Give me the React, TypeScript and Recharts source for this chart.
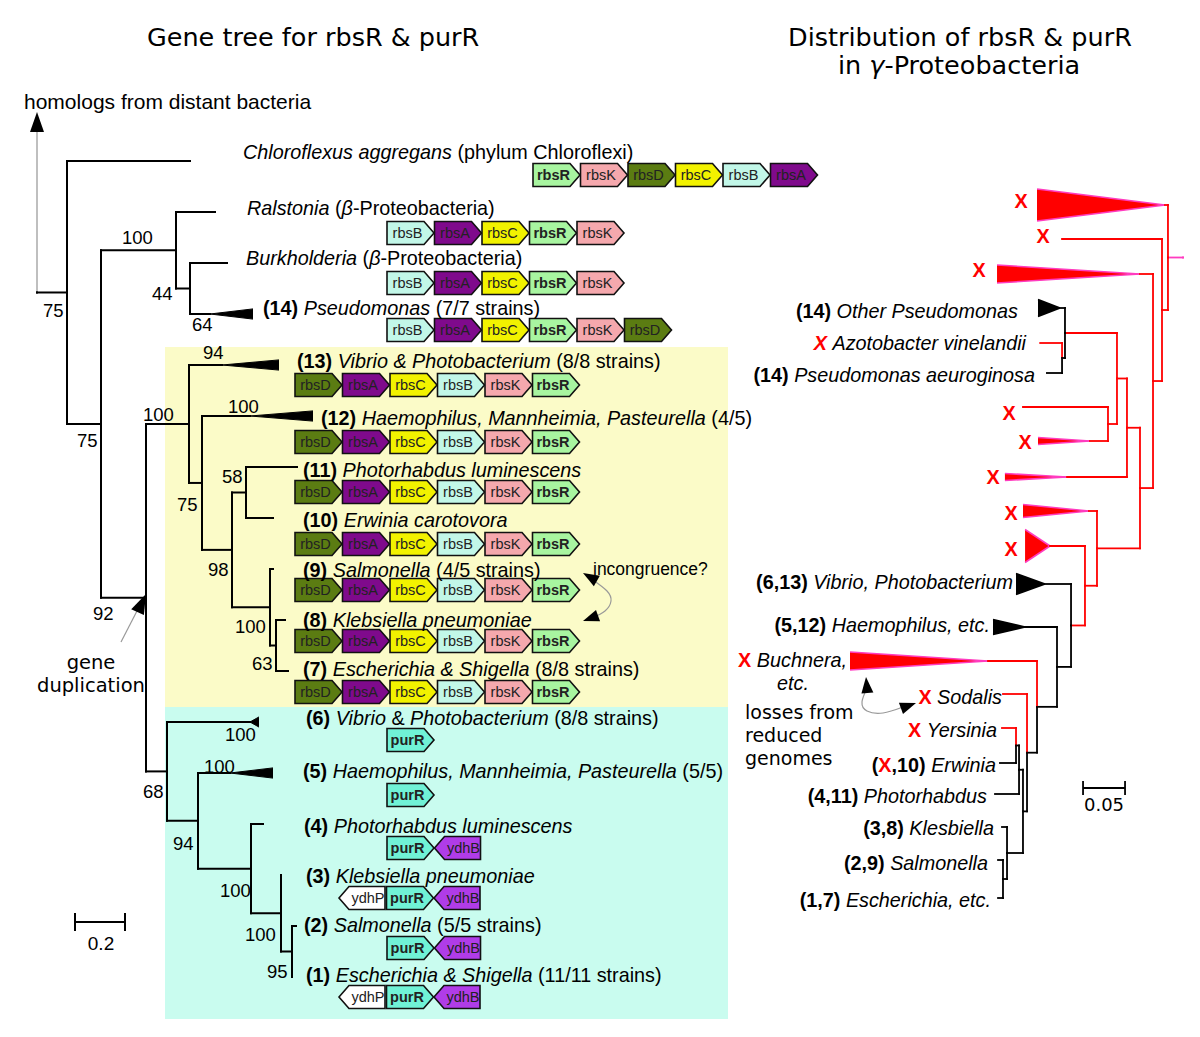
import React from "react";
import {
  Area,
  ComposedChart,
  Line,
  ReferenceArea,
  ReferenceLine,
  Scatter,
  XAxis,
  YAxis,
} from "recharts";

const W = 1200;
const H = 1037;
const SANS = "'Liberation Sans', Arial, Helvetica, sans-serif";
const DEJAVU = "'DejaVu Sans', Verdana, sans-serif";
const RED = "#ff0000";
const PINK = "#ff3cc0";
const LABEL_SIZE = 19.8;

// ---------------- left: gene tree for rbsR & purR ----------------
// [id, parent, distance from root (subst./site), leaf row, end of collapsed clade]
type LRow = [string, string | null, number, number | null, number | null];
const leftTree: LRow[] = [
  ["root", null, 0, null, null],
  ["A", "root", 0.12, null, null],
  ["chl", "A", 0.612, 0, null],
  ["B", "A", 0.256, null, null],
  ["C", "B", 0.556, null, null],
  ["ral", "C", 0.712, 1, null],
  ["E", "C", 0.612, null, null],
  ["bur", "E", 0.76, 2, null],
  ["pse", "E", 0.692, 3, 0.864],
  ["D", "B", 0.436, null, null],
  ["F", "D", 0.608, null, null],
  ["v13", "F", 0.74, 4, 0.968],
  ["G", "F", 0.66, null, null],
  ["h12", "G", 0.852, 5, 1.104],
  ["H", "G", 0.78, null, null],
  ["I", "H", 0.836, null, null],
  ["p11", "I", 1.04, 6, null],
  ["e10", "I", 0.944, 7, null],
  ["J", "H", 0.932, null, null],
  ["s9", "J", 0.944, 8, null],
  ["K", "J", 0.956, null, null],
  ["k8", "K", 0.992, 9, null],
  ["e7", "K", 1.004, 10, null],
  ["L", "D", 0.52, null, null],
  ["v6", "L", 0.852, 11, 0.888],
  ["M", "L", 0.644, null, null],
  ["h5", "M", 0.772, 12, 0.944],
  ["N", "M", 0.856, null, null],
  ["p4", "N", 0.904, 13, null],
  ["O", "N", 0.976, null, null],
  ["k3", "O", 0.976, 14, null],
  ["P", "O", 1.02, null, null],
  ["s2", "P", 1.036, 15, null],
  ["e1", "P", 1.02, 16, null],
];

const leftNames: Record<string, string> = {
  chl: "_Chloroflexus aggregans_ (phylum Chloroflexi)",
  ral: "_Ralstonia_ (_β_-Proteobacteria)",
  bur: "_Burkholderia_ (_β_-Proteobacteria)",
  pse: "*(14)* _Pseudomonas_ (7/7 strains)",
  v13: "*(13)* _Vibrio & Photobacterium_ (8/8 strains)",
  h12: "*(12)* _Haemophilus, Mannheimia, Pasteurella_ (4/5)",
  p11: "*(11)* _Photorhabdus luminescens_",
  e10: "*(10)* _Erwinia carotovora_",
  s9: "*(9)* _Salmonella_ (4/5 strains)",
  k8: "*(8)* _Klebsiella pneumoniae_",
  e7: "*(7)* _Escherichia & Shigella_ (8/8 strains)",
  v6: "*(6)* _Vibrio_ & _Photobacterium_ (8/8 strains)",
  h5: "*(5)* _Haemophilus, Mannheimia, Pasteurella_ (5/5)",
  p4: "*(4)* _Photorhabdus luminescens_",
  k3: "*(3)* _Klebsiella pneumoniae_",
  s2: "*(2)* _Salmonella_ (5/5 strains)",
  e1: "*(1)* _Escherichia & Shigella_ (11/11 strains)",
};
const leftLabelAt: Record<string, [number, number]> = {
  chl: [243, 152], ral: [247, 208], bur: [246, 258], pse: [263, 308],
  v13: [297, 361], h12: [321, 418], p11: [303, 470], e10: [303, 520],
  s9: [303, 570], k8: [303, 620], e7: [303, 669], v6: [306, 718],
  h5: [303, 771], p4: [304, 826], k3: [306, 876], s2: [304, 925], e1: [306, 975],
};

const RBS7 = ["rbsD", "rbsA", "rbsC", "rbsB", "rbsK", "rbsR"];
const geneOrder: Record<string, string[]> = {
  chl: ["rbsR", "rbsK", "rbsD", "rbsC", "rbsB", "rbsA"],
  ral: ["rbsB", "rbsA", "rbsC", "rbsR", "rbsK"],
  bur: ["rbsB", "rbsA", "rbsC", "rbsR", "rbsK"],
  pse: ["rbsB", "rbsA", "rbsC", "rbsR", "rbsK", "rbsD"],
  v13: RBS7, h12: RBS7, p11: RBS7, e10: RBS7, s9: RBS7, k8: RBS7, e7: RBS7,
  v6: ["purR"],
  h5: ["purR"],
  p4: ["purR", "ydhB"],
  k3: ["ydhP", "purR", "ydhB"],
  s2: ["purR", "ydhB"],
  e1: ["ydhP", "purR", "ydhB"],
};
const geneRowAt: Record<string, [number, number]> = {
  chl: [533, 175], ral: [387, 233], bur: [387, 283], pse: [387, 330],
  v13: [295, 385], h12: [295, 442], p11: [295, 492], e10: [295, 544],
  s9: [295, 590], k8: [295, 641], e7: [295, 692],
  v6: [387, 740], h5: [387, 795], p4: [387, 848], k3: [339, 898],
  s2: [387, 948], e1: [339, 997],
};
const GENE_FILL: Record<string, string> = {
  rbsR: "#a8f5a0", rbsK: "#f5a8ad", rbsD: "#5b7c12", rbsC: "#f2f200",
  rbsB: "#c2f7e8", rbsA: "#7f0a8c", purR: "#70f2d6", ydhB: "#b03ce8", ydhP: "#ffffff",
};
const BOLD_GENES = ["rbsR", "purR"];
const REVERSE_GENES = ["ydhB", "ydhP"];

const bootValues = ["75", "100", "44", "64", "75", "92", "100", "94", "75", "100", "58",
  "98", "100", "63", "68", "100", "100", "94", "100", "100", "95"];
const bootAt: [number, number][] = [
  [43, 310], [122, 237], [152, 293], [192, 324], [77, 440], [93, 613], [143, 414],
  [203, 352], [177, 504], [228, 406], [222, 476], [208, 569], [235, 626], [252, 663],
  [143, 791], [225, 734], [204, 766], [173, 843], [220, 890], [245, 934], [267, 971],
];

// ---------------- right: species tree, gamma-Proteobacteria ----------------
// [id, parent, distance from root, leaf y, end of collapsed clade, lineage: r = lost rbsR, k = kept]
type RRow = [string, string | null, number, number | null, number | null, string];
const rightTree: RRow[] = [
  ["root", null, 0, null, null, "m"],
  ["Q1", "root", 0.0179, null, null, "m"],
  ["t1", "Q1", 0.0214, 205, 0.1738, "r"],
  ["Q2", "Q1", 0.025, null, null, "r"],
  ["x2", "Q2", 0.144, 239, null, "r"],
  ["Q3", "Q2", 0.0357, null, null, "r"],
  ["t2", "Q3", 0.0512, 274, 0.2214, "r"],
  ["Q4", "Q3", 0.0512, null, null, "r"],
  ["Q5", "Q4", 0.0667, null, null, "r"],
  ["Q6", "Q5", 0.0786, null, null, "r"],
  ["N2", "Q6", 0.1405, null, null, "r"],
  ["op", "N2", 0.1464, 308, 0.1726, "k"],
  ["N1", "N2", 0.144, null, null, "k"],
  ["azo", "N1", 0.17, 343, null, "r"],
  ["pae", "N1", 0.162, 373, null, "k"],
  ["Q7", "Q6", 0.0893, null, null, "r"],
  ["x7", "Q7", 0.1905, 407, null, "r"],
  ["t4", "Q7", 0.1107, 441, 0.1726, "r"],
  ["t5", "Q5", 0.138, 477, 0.212, "r"],
  ["Q9", "Q4", 0.1024, null, null, "r"],
  ["t6", "Q9", 0.1119, 511, 0.1905, "r"],
  ["Q10", "Q9", 0.1167, null, null, "r"],
  ["t7", "Q10", 0.1583, 546, 0.188, "r"],
  ["Q11", "Q10", 0.1333, null, null, "r"],
  ["vib", "Q11", 0.1643, 584, 0.1988, "k"],
  ["Q12", "Q11", 0.15, null, null, "k"],
  ["hae", "Q12", 0.1881, 627, 0.2262, "k"],
  ["Q13", "Q12", 0.1738, null, null, "k"],
  ["buc", "Q13", 0.2321, 661, 0.3964, "r"],
  ["Q14", "Q13", 0.1857, null, null, "k"],
  ["sod", "Q14", 0.2143, 694, null, "r"],
  ["Q15", "Q14", 0.1905, null, null, "k"],
  ["Q16", "Q15", 0.1952, null, null, "k"],
  ["Q17", "Q16", 0.1988, null, null, "k"],
  ["yer", "Q17", 0.2155, 728, null, "r"],
  ["erw", "Q17", 0.2179, 763, null, "k"],
  ["pho", "Q16", 0.2238, 794, null, "k"],
  ["Q18", "Q15", 0.2095, null, null, "k"],
  ["kle", "Q18", 0.2155, 827, null, "k"],
  ["Q19", "Q18", 0.2143, null, null, "k"],
  ["sal", "Q19", 0.2202, 860, null, "k"],
  ["esc", "Q19", 0.2202, 898, null, "k"],
];
// half-width of each collapsed clade wedge
const cladeSpread: Record<string, number> = {
  t1: 16, t2: 9, op: 8.5, t4: 3.5, t5: 3.5, t6: 6.5, t7: 16.5, vib: 10.5, hae: 7.5, buc: 9,
};

const rightNames: Record<string, string> = {
  t1: "~X~", x2: "~X~", t2: "~X~",
  op: "*(14)* _Other Pseudomonas_",
  azo: "^X^ _Azotobacter vinelandii_",
  pae: "*(14)* _Pseudomonas aeuroginosa_",
  x7: "~X~", t4: "~X~", t5: "~X~", t6: "~X~", t7: "~X~",
  vib: "*(6,13)* _Vibrio, Photobacterium_",
  hae: "*(5,12)* _Haemophilus, etc._",
  buc: "~X~ _Buchnera,_",
  sod: "~X~ _Sodalis_",
  yer: "~X~ _Yersinia_",
  erw: "*(*~X~*,10)* _Erwinia_",
  pho: "*(4,11)* _Photorhabdus_",
  kle: "*(3,8)* _Klesbiella_",
  sal: "*(2,9)* _Salmonella_",
  esc: "*(1,7)* _Escherichia, etc._",
};
// [x, y, anchor]
const rightLabelAt: Record<string, [number, number, string]> = {
  t1: [1021, 201, "middle"], x2: [1043, 236, "middle"], t2: [979, 270, "middle"],
  op: [1018, 311, "end"], azo: [1026, 343, "end"], pae: [1035, 375, "end"],
  x7: [1009, 413, "middle"], t4: [1025, 442, "middle"], t5: [993, 477, "middle"],
  t6: [1011, 513, "middle"], t7: [1011, 549, "middle"],
  vib: [1013, 582, "end"], hae: [990, 625, "end"], buc: [847, 660, "end"],
  sod: [1002, 697, "end"], yer: [997, 730, "end"], erw: [996, 765, "end"],
  pho: [987, 796, "end"], kle: [994, 828, "end"], sal: [988, 863, "end"],
  esc: [991, 900, "end"],
};

// ---------------- helpers ----------------
type AnyRow = [string, string | null, number, number | null, number | null, ...any[]];

function placeTree(rows: AnyRow[]) {
  const kids: Record<string, string[]> = {};
  const info: Record<string, AnyRow> = {};
  rows.forEach((r) => {
    info[r[0]] = r;
    if (r[1]) (kids[r[1]] = kids[r[1]] || []).push(r[0]);
  });
  const y: Record<string, number> = {};
  const place = (id: string): number => {
    const r = info[id];
    if (r[3] != null) return (y[id] = r[3]);
    const ys = (kids[id] || []).map(place);
    return (y[id] = (Math.min(...ys) + Math.max(...ys)) / 2);
  };
  place(rows[0][0]);
  return { y, info };
}

function branches(rows: AnyRow[], colour: (r: AnyRow) => string) {
  const { y, info } = placeTree(rows);
  const segs: { x1: number; y1: number; x2: number; y2: number; c: string }[] = [];
  rows.forEach((r) => {
    if (!r[1]) return;
    const p = info[r[1]];
    const c = colour(r);
    segs.push({ x1: p[2], y1: y[p[0]], x2: p[2], y2: y[r[0]], c });
    segs.push({ x1: p[2], y1: y[r[0]], x2: r[2], y2: y[r[0]], c });
  });
  return { segs, y };
}

function parseRich(s: string): [string, string][] {
  return s
    .split(/(\*[^*]*\*|_[^_]*_|~[^~]*~|\^[^^]*\^)/)
    .filter((t) => t.length > 0)
    .map((t) => {
      const c = t[0];
      if ("*_~^".includes(c) && t.length > 1 && t[t.length - 1] === c) return [t.slice(1, -1), c];
      return [t, ""];
    });
}

function RichText({ x, y, s, anchor = "start", size = 19, family = SANS }: any) {
  return (
    <text x={x} y={y} dy="0.36em" textAnchor={anchor} fontSize={size} fontFamily={family} style={{ whiteSpace: "pre" }}>
      {parseRich(s).map(([t, k], i) => (
        <tspan
          key={i}
          fontWeight={k === "*" || k === "~" || k === "^" ? 700 : 400}
          fontStyle={k === "_" || k === "^" ? "italic" : "normal"}
          fill={k === "~" || k === "^" ? RED : "#000"}
        >
          {t}
        </tspan>
      ))}
    </text>
  );
}

const GENE_BODY = 37;
const GENE_TIP = 10;
const GENE_H = 23;
const GENE_PITCH = 47.5;

function GeneShape(props: any) {
  const { cx, cy, payload } = props;
  const name: string = payload.name;
  const h = GENE_H / 2;
  const rev = REVERSE_GENES.includes(name);
  const pts = rev
    ? [[cx, cy], [cx + GENE_TIP, cy - h], [cx + GENE_TIP + 36, cy - h], [cx + GENE_TIP + 36, cy + h], [cx + GENE_TIP, cy + h]]
    : [[cx, cy - h], [cx + GENE_BODY, cy - h], [cx + GENE_BODY + GENE_TIP, cy], [cx + GENE_BODY, cy + h], [cx, cy + h]];
  const mid = rev ? cx + GENE_TIP + 19 : cx + GENE_BODY / 2 + 2;
  return (
    <g>
      <polygon points={pts.map((p) => p.join(",")).join(" ")} fill={GENE_FILL[name]} stroke="#111" strokeWidth={1.6} strokeLinejoin="miter" />
      <text x={mid} y={cy} dy="0.36em" textAnchor="middle" fontSize={14.5} fontFamily={SANS}
        fontWeight={BOLD_GENES.includes(name) ? 700 : 400} fill="#222">
        {name}
      </text>
    </g>
  );
}

function ArrowHead(props: any) {
  const { cx, cy, payload } = props;
  const { angle, len, half } = payload;
  return (
    <polygon points={`0,0 ${-len},${-half} ${-len},${half}`} transform={`translate(${cx},${cy}) rotate(${angle})`} fill="#000" />
  );
}

// annotation glyphs (page coordinates)
const arrowHeads = [
  { x: 37, y: 112, angle: -90, len: 20, half: 7 },
  { x: 146, y: 594, angle: -65, len: 20, half: 7 },
  { x: 583, y: 573, angle: -150, len: 16, half: 6 },
  { x: 583, y: 621, angle: 160, len: 16, half: 6 },
  { x: 866, y: 677, angle: -95, len: 16, half: 6 },
  { x: 916, y: 703, angle: -20, len: 16, half: 6 },
];
const incongruenceCurve = [
  { x: 593, y: 580 }, { x: 607, y: 591 }, { x: 611, y: 601 }, { x: 605, y: 611 }, { x: 592, y: 618 },
];
const lossesCurve = [
  { x: 867, y: 688 }, { x: 862, y: 702 }, { x: 867, y: 711 }, { x: 883, y: 713 }, { x: 903, y: 707 },
];
const duplicationLine = [{ x: 121, y: 642 }, { x: 138, y: 609 }];

const texts: { x: number; y: number; s: string; anchor?: string; size?: number; family?: string }[] = [
  { x: 147, y: 37, s: "Gene tree for rbsR & purR", size: 25.5, family: DEJAVU },
  { x: 788, y: 37, s: "Distribution of rbsR & purR", size: 25.5, family: DEJAVU },
  { x: 838, y: 65, s: "in _γ_-Proteobacteria", size: 25.5, family: DEJAVU },
  { x: 24, y: 101, s: "homologs from distant bacteria", size: 21 },
  { x: 91, y: 662, s: "gene", anchor: "middle", size: 19.5, family: DEJAVU },
  { x: 91, y: 685, s: "duplication", anchor: "middle", size: 19.5, family: DEJAVU },
  { x: 593, y: 569, s: "incongruence?", size: 17.5 },
  { x: 745, y: 712, s: "losses from", size: 19, family: DEJAVU },
  { x: 745, y: 735, s: "reduced", size: 19, family: DEJAVU },
  { x: 745, y: 758, s: "genomes", size: 19, family: DEJAVU },
  { x: 793, y: 683, s: "_etc._", anchor: "middle", size: LABEL_SIZE },
  { x: 101, y: 943, s: "0.2", anchor: "middle" },
  { x: 1104, y: 805, s: "0.05", anchor: "middle", family: DEJAVU, size: 18 },
];

export default function App() {
  const left = branches(leftTree, () => "#000");
  const right = branches(rightTree, (r) => (r[5] === "m" ? PINK : r[5] === "r" ? RED : "#000"));

  const leftWedges = leftTree.filter((r) => r[4] != null).map((r) => {
    const yy = left.y[r[0]];
    return { id: r[0], data: [{ x: r[2], v: [yy, yy] }, { x: r[4] as number, v: [yy - 0.1, yy + 0.1] }] };
  });
  const rightWedges = rightTree.filter((r) => r[4] != null).map((r) => {
    const yy = right.y[r[0]];
    const h = cladeSpread[r[0]];
    return { id: r[0], red: r[5] === "r", data: [{ x: r[2], v: [yy, yy] }, { x: r[4] as number, v: [yy - h, yy + h] }] };
  });

  const genePoints = Object.keys(geneOrder).flatMap((leaf) =>
    geneOrder[leaf].map((name, i) => ({ x: geneRowAt[leaf][0] + i * GENE_PITCH, y: geneRowAt[leaf][1], name }))
  );
  const leftLabelPts = Object.keys(leftNames).map((k) => ({ x: leftLabelAt[k][0], y: leftLabelAt[k][1], s: leftNames[k] }));
  const rightLabelPts = Object.keys(rightNames).map((k) => ({
    x: rightLabelAt[k][0], y: rightLabelAt[k][1], anchor: rightLabelAt[k][2], s: rightNames[k],
  }));
  const bootPts = bootValues.map((s, i) => ({ x: bootAt[i][0], y: bootAt[i][1], s }));

  const axisLines = { ifOverflow: "visible" as const };

  return (
    <div style={{ position: "absolute", left: 0, top: 0, width: W, height: H, background: "#fff" }}>
      <ComposedChart width={W} height={H} margin={{ top: 0, right: 0, bottom: 0, left: 0 }}>
        <XAxis xAxisId="px" type="number" dataKey="x" domain={[0, W]} hide allowDataOverflow />
        <XAxis xAxisId="lt" type="number" dataKey="x" domain={[-0.148, 4.652]} hide allowDataOverflow />
        <XAxis xAxisId="rt" type="number" dataKey="x" domain={[-17 / 840, 1183 / 840]} reversed hide allowDataOverflow />
        <YAxis yAxisId="px" type="number" dataKey="y" domain={[0, H]} reversed hide allowDataOverflow />
        <YAxis yAxisId="lrow" type="number" dataKey="y" domain={[-161 / 51, 876 / 51]} reversed hide allowDataOverflow />

        <ReferenceArea xAxisId="px" yAxisId="px" x1={165} x2={728} y1={347} y2={707} fill="#fbfbc8" fillOpacity={1} stroke="none" {...axisLines} />
        <ReferenceArea xAxisId="px" yAxisId="px" x1={165} x2={728} y1={707} y2={1019} fill="#c9fcef" fillOpacity={1} stroke="none" {...axisLines} />

        {/* root of the gene tree continues to distant homologs */}
        <ReferenceLine xAxisId="px" yAxisId="px" segment={[{ x: 37, y: left.y.A * 51 + 161 }, { x: 37, y: 128 }]} stroke="#aaa" strokeWidth={1.5} {...axisLines} />

        {left.segs.map((s, i) => (
          <ReferenceLine key={`l${i}`} xAxisId="lt" yAxisId="lrow" segment={[{ x: s.x1, y: s.y1 }, { x: s.x2, y: s.y2 }]}
            stroke={s.c} strokeWidth={2} strokeLinecap="square" {...axisLines} />
        ))}
        {right.segs.map((s, i) => (
          <ReferenceLine key={`r${i}`} xAxisId="rt" yAxisId="px" segment={[{ x: s.x1, y: s.y1 }, { x: s.x2, y: s.y2 }]}
            stroke={s.c} strokeWidth={1.8} strokeLinecap="square" {...axisLines} />
        ))}

        {leftWedges.map((w) => (
          <Area key={w.id} xAxisId="lt" yAxisId="lrow" data={w.data} dataKey="v" type="linear"
            fill="#000" fillOpacity={1} stroke="#000" strokeWidth={1} dot={false} activeDot={false} isAnimationActive={false} />
        ))}
        {rightWedges.map((w) => (
          <Area key={w.id} xAxisId="rt" yAxisId="px" data={w.data} dataKey="v" type="linear"
            fill={w.red ? RED : "#000"} fillOpacity={1} stroke={w.red ? PINK : "#000"} strokeWidth={1.5}
            dot={false} activeDot={false} isAnimationActive={false} />
        ))}

        {/* scale bars */}
        <ReferenceLine xAxisId="lt" yAxisId="px" segment={[{ x: 0.152, y: 922 }, { x: 0.352, y: 922 }]} stroke="#000" strokeWidth={2} {...axisLines} />
        <ReferenceLine xAxisId="lt" yAxisId="px" segment={[{ x: 0.152, y: 913 }, { x: 0.152, y: 931 }]} stroke="#000" strokeWidth={2} {...axisLines} />
        <ReferenceLine xAxisId="lt" yAxisId="px" segment={[{ x: 0.352, y: 913 }, { x: 0.352, y: 931 }]} stroke="#000" strokeWidth={2} {...axisLines} />
        <ReferenceLine xAxisId="rt" yAxisId="px" segment={[{ x: 0.069, y: 788 }, { x: 0.119, y: 788 }]} stroke="#000" strokeWidth={1.8} {...axisLines} />
        <ReferenceLine xAxisId="rt" yAxisId="px" segment={[{ x: 0.069, y: 781 }, { x: 0.069, y: 795 }]} stroke="#000" strokeWidth={1.8} {...axisLines} />
        <ReferenceLine xAxisId="rt" yAxisId="px" segment={[{ x: 0.119, y: 781 }, { x: 0.119, y: 795 }]} stroke="#000" strokeWidth={1.8} {...axisLines} />

        <Line xAxisId="px" yAxisId="px" data={incongruenceCurve} dataKey="y" type="natural" stroke="#999" strokeWidth={1.2} dot={false} activeDot={false} isAnimationActive={false} />
        <Line xAxisId="px" yAxisId="px" data={lossesCurve} dataKey="y" type="natural" stroke="#999" strokeWidth={1.2} dot={false} activeDot={false} isAnimationActive={false} />
        <Line xAxisId="px" yAxisId="px" data={duplicationLine} dataKey="y" type="linear" stroke="#999" strokeWidth={1.2} dot={false} activeDot={false} isAnimationActive={false} />

        <Scatter xAxisId="px" yAxisId="px" data={genePoints} isAnimationActive={false} shape={(p: any) => <GeneShape {...p} />} />
        <Scatter xAxisId="px" yAxisId="px" data={arrowHeads} isAnimationActive={false} shape={(p: any) => <ArrowHead {...p} />} />
        <Scatter xAxisId="px" yAxisId="px" data={leftLabelPts} isAnimationActive={false}
          shape={(p: any) => <RichText x={p.cx} y={p.cy} s={p.payload.s} size={LABEL_SIZE} />} />
        <Scatter xAxisId="px" yAxisId="px" data={rightLabelPts} isAnimationActive={false}
          shape={(p: any) => <RichText x={p.cx} y={p.cy} s={p.payload.s} anchor={p.payload.anchor} size={LABEL_SIZE} />} />
        <Scatter xAxisId="px" yAxisId="px" data={bootPts} isAnimationActive={false}
          shape={(p: any) => <RichText x={p.cx} y={p.cy} s={p.payload.s} size={18.5} />} />
        <Scatter xAxisId="px" yAxisId="px" data={texts} isAnimationActive={false}
          shape={(p: any) => (
            <RichText x={p.cx} y={p.cy} s={p.payload.s} anchor={p.payload.anchor || "start"}
              size={p.payload.size || 19} family={p.payload.family || SANS} />
          )} />
      </ComposedChart>
    </div>
  );
}
